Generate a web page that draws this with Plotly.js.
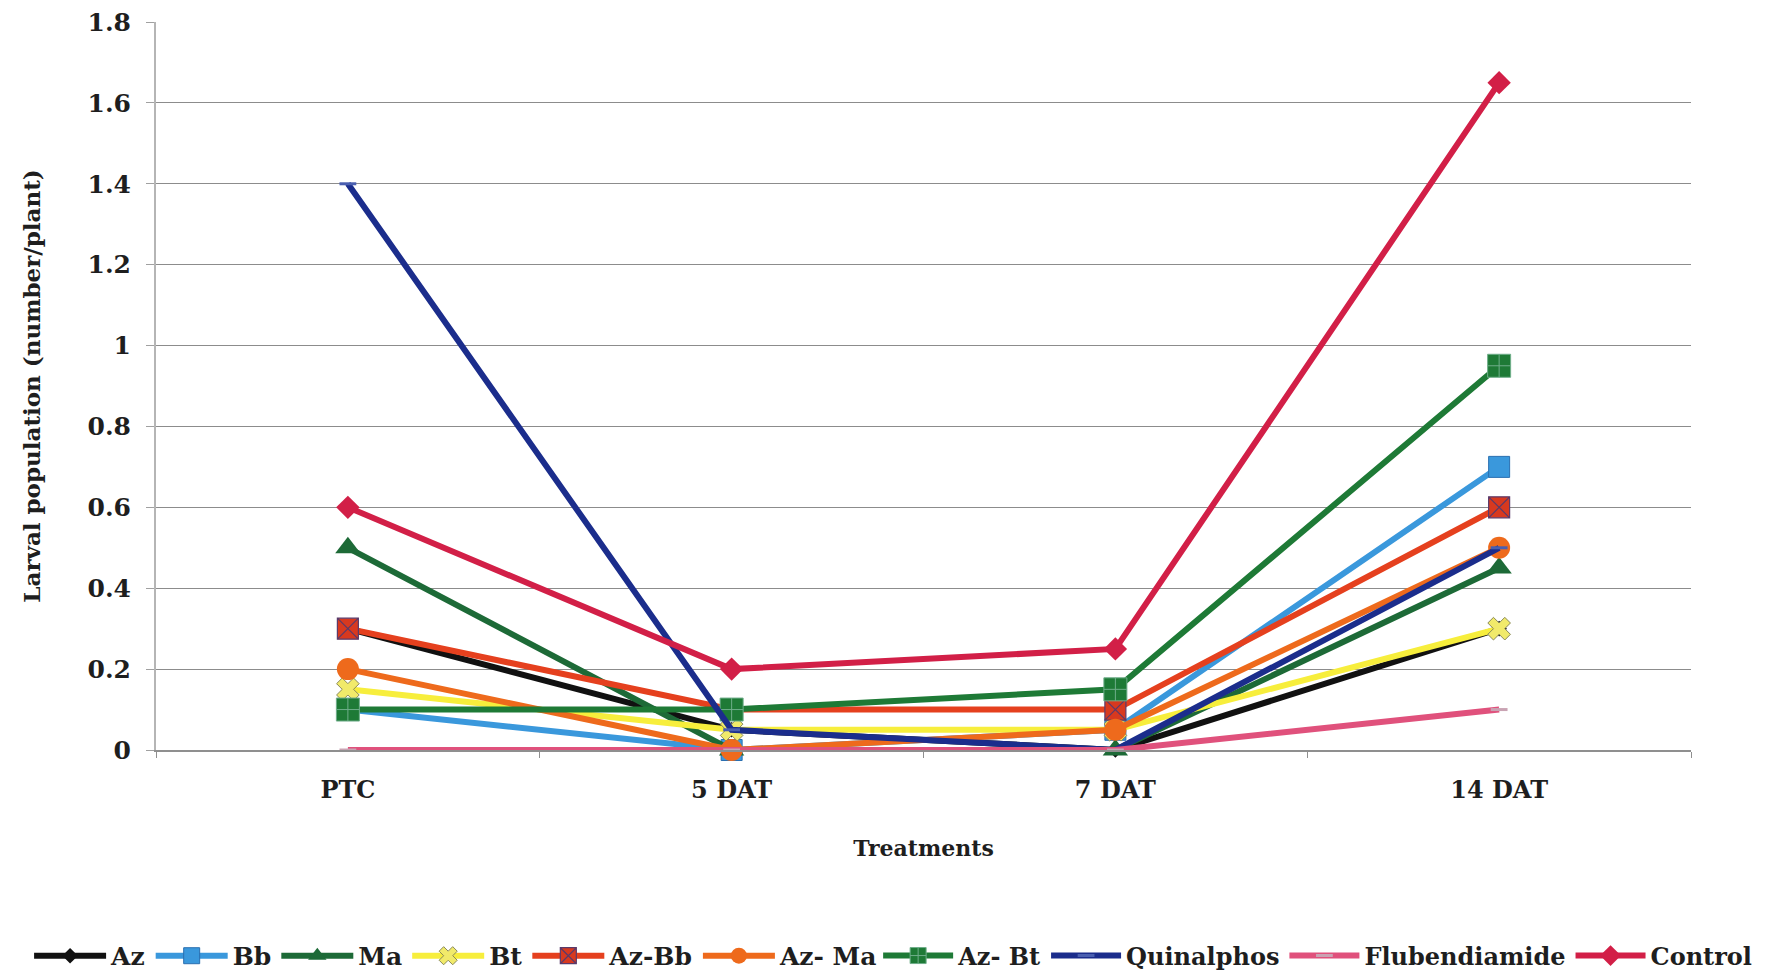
<!DOCTYPE html>
<html>
<head>
<meta charset="utf-8">
<script src="https://cdn.plot.ly/plotly-3.0.1.min.js"></script>
<style>
  html, body { margin: 0; padding: 0; background: #ffffff; }
  #chart { width: 1774px; height: 972px; }
</style>
</head>
<body>
<div id="chart"></div>
<script>
// Sampling stages
const stages = ["PTC", "5 DAT", "7 DAT", "14 DAT"];

// Larval population (number/plant) per treatment at each stage
const az            = [0.30, 0.05, 0.00, 0.30];
const bb            = [0.10, 0.00, 0.05, 0.70];
const ma            = [0.50, 0.00, 0.00, 0.45];
const bt            = [0.15, 0.05, 0.05, 0.30];
const azBb          = [0.30, 0.10, 0.10, 0.60];
const azMa          = [0.20, 0.00, 0.05, 0.50];
const azBt          = [0.10, 0.10, 0.15, 0.95];
const quinalphos    = [1.40, 0.05, 0.00, 0.50];
const flubendiamide = [0.00, 0.00, 0.00, 0.10];
const control       = [0.60, 0.20, 0.25, 1.65];

// Y-axis ticks
const yTicks = [0, 0.2, 0.4, 0.6, 0.8, 1, 1.2, 1.4, 1.6, 1.8];

const FONT = "DejaVu Serif, serif";
const TEXT = "#1e1e1e";

// The key row is split over two legend boxes so it can span the full width
function series(name, y, color, marker, legendId) {
  return {
    type: "scatter",
    mode: "lines+markers",
    name: name,
    x: stages,
    y: y,
    line: { color: color, width: 6 },
    marker: marker,
    cliponaxis: false,
    legend: legendId
  };
}

const traces = [
  series("Az", az, "#111111",
    { symbol: "diamond", size: 12, color: "#111111" }, "legend"),
  series("Bb", bb, "#3a98dc",
    { symbol: "square", size: 21, color: "#3a98dc", line: { color: "#2a6fb0", width: 1 } }, "legend"),
  series("Ma", ma, "#1d6a37",
    { symbol: "triangle-up", size: 22, color: "#1d6a37" }, "legend"),
  series("Bt", bt, "#f7ee3c",
    { symbol: "x", size: 20, color: "#f1ea6a", line: { color: "#8a8a5a", width: 1 } }, "legend"),
  series("Az-Bb", azBb, "#e5401e",
    { symbol: "square-x", size: 21, color: "#d8391f", line: { color: "#5a3a6a", width: 1.2 } }, "legend"),
  series("Az- Ma", azMa, "#ee6a1c",
    { symbol: "circle", size: 22, color: "#ee6a1c" }, "legend"),
  series("Az- Bt", azBt, "#1e7a36",
    { symbol: "square-cross", size: 23, color: "#1e7a36", line: { color: "#6fae8a", width: 1 } }, "legend2"),
  series("Quinalphos", quinalphos, "#1b2d8c",
    { symbol: "line-ew", size: 12, color: "#1b2d8c", line: { color: "#4a5fb0", width: 3 } }, "legend2"),
  series("Flubendiamide", flubendiamide, "#e0517c",
    { symbol: "line-ew", size: 12, color: "#e0517c", line: { color: "#c9a3b3", width: 3 } }, "legend2"),
  series("Control", control, "#d21f47",
    { symbol: "diamond", size: 18, color: "#d21f47" }, "legend2")
];

const legendStyle = {
  orientation: "h",
  xref: "container",
  xanchor: "left",
  yref: "container",
  y: 0.0165,
  yanchor: "middle",
  font: { family: FONT, size: 25, color: TEXT, weight: "bold" },
  itemwidth: 72,
  traceorder: "normal",
  bgcolor: "rgba(0,0,0,0)"
};

const layout = {
  width: 1774,
  height: 972,
  paper_bgcolor: "#ffffff",
  plot_bgcolor: "#ffffff",
  margin: { l: 156, r: 83, t: 22, b: 222 },
  font: { family: FONT, color: TEXT, size: 24, weight: "bold" },
  showlegend: true,
  legend: Object.assign({}, legendStyle, { x: 0.0164 }),
  legend2: Object.assign({}, legendStyle, {
    x: 0.495,
    font: { family: FONT, size: 24, color: TEXT, weight: "bold" },
    itemwidth: 70
  }),
  xaxis: {
    type: "category",
    range: [-0.5, 3.5],
    showgrid: false,
    showline: true,
    linecolor: "#8f8f8f",
    linewidth: 1.5,
    ticks: "outside",
    tickson: "boundaries",
    ticklen: 6,
    tickcolor: "#8f8f8f",
    ticklabelstandoff: 18,
    tickfont: { family: FONT, size: 24, color: TEXT, weight: "bold" },
    title: {
      text: "Treatments",
      standoff: 37,
      font: { family: FONT, size: 22, color: TEXT, weight: "bold" }
    },
    zeroline: false,
    automargin: false,
    fixedrange: true
  },
  yaxis: {
    range: [0, 1.8],
    tickvals: yTicks,
    ticktext: yTicks.map(String),
    showgrid: true,
    gridcolor: "#8c8c8c",
    gridwidth: 1,
    showline: true,
    linecolor: "#b5b5b5",
    linewidth: 2,
    ticks: "outside",
    ticklen: 8,
    tickcolor: "#a0a0a0",
    ticklabelstandoff: 10,
    tickfont: { family: FONT, size: 25, color: TEXT, weight: "bold" },
    title: {
      text: "Larval population (number/plant)",
      standoff: 40,
      font: { family: FONT, size: 23, color: TEXT, weight: "bold" }
    },
    zeroline: false,
    automargin: false,
    fixedrange: true
  }
};

Plotly.newPlot("chart", traces, layout, { displayModeBar: false, staticPlot: true });
</script>
</body>
</html>
